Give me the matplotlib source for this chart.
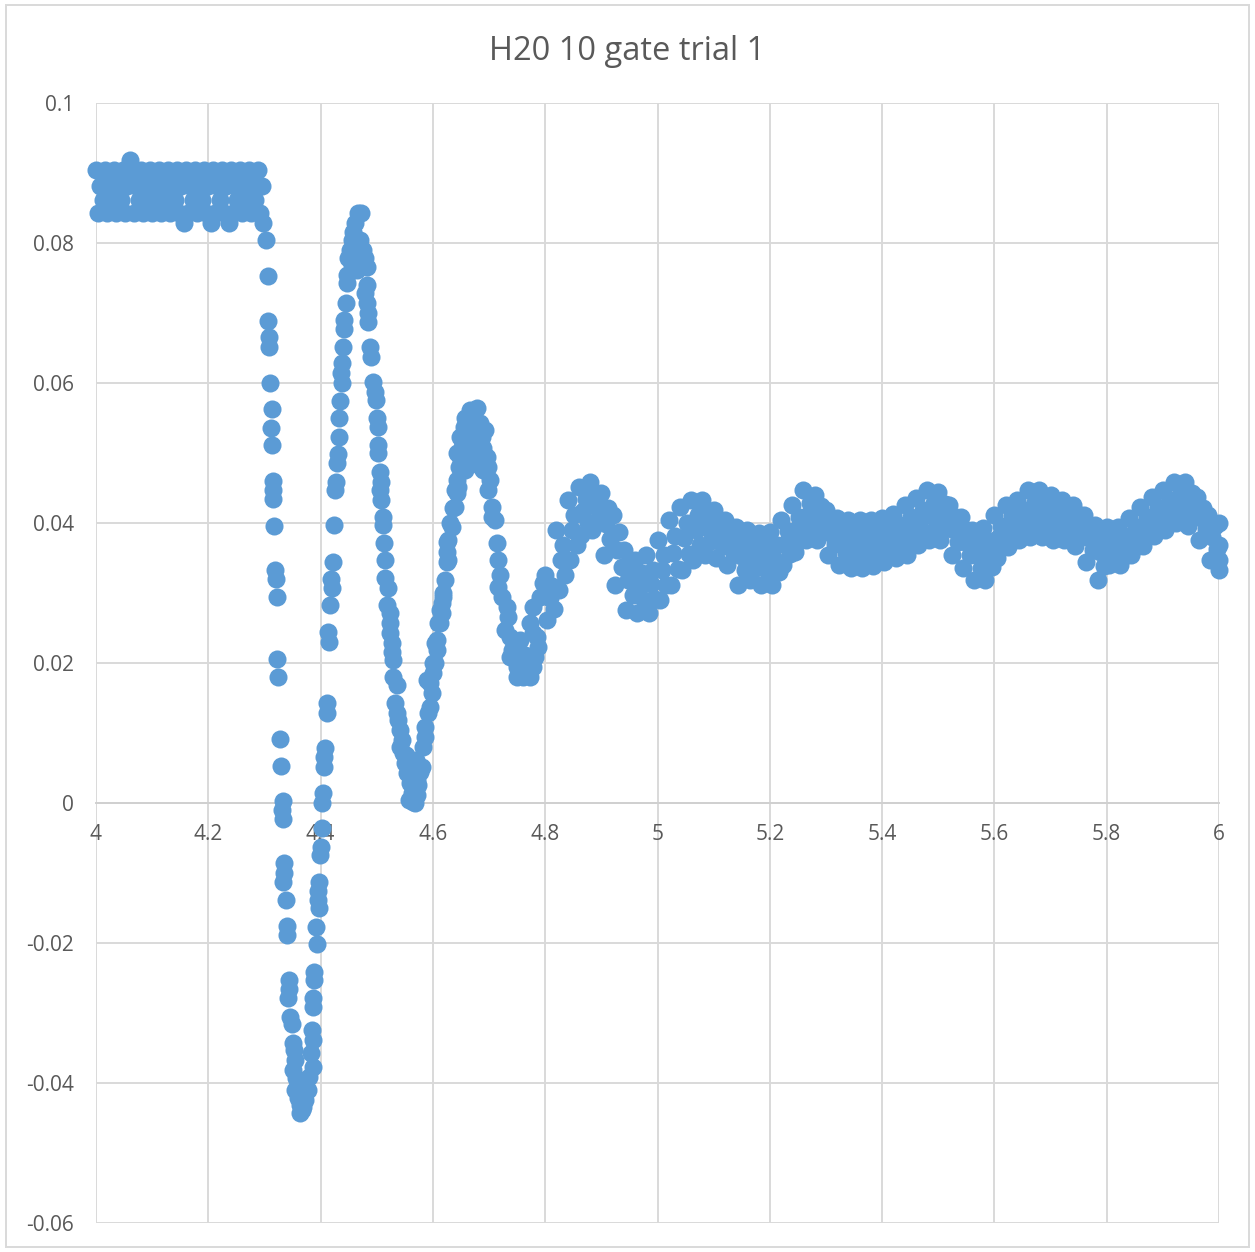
import matplotlib
matplotlib.use("Agg")
import matplotlib.pyplot as plt
from matplotlib.patches import Rectangle

plt.rcParams['font.family'] = ['Open Sans', 'DejaVu Sans']

title = "H20 10 gate trial 1"
x_ticks = [4, 4.2, 4.4, 4.6, 4.8, 5, 5.2, 5.4, 5.6, 5.8, 6]
x_labels = ["4", "4.2", "4.4", "4.6", "4.8", "5", "5.2", "5.4", "5.6", "5.8", "6"]
y_ticks = [-0.06, -0.04, -0.02, 0, 0.02, 0.04, 0.06, 0.08, 0.1]
y_labels = ["-0.06", "-0.04", "-0.02", "0", "0.02", "0.04", "0.06", "0.08", "0.1"]

# flat part before the gate switches
t_flat = [4.000, 4.004, 4.008, 4.012, 4.016, 4.020, 4.024, 4.028, 4.032, 4.036,
          4.040, 4.044, 4.048, 4.052, 4.056, 4.060, 4.064, 4.068, 4.072, 4.076,
          4.080, 4.084, 4.088, 4.092, 4.096, 4.100, 4.104, 4.108, 4.112, 4.116,
          4.120, 4.124, 4.128, 4.132, 4.136, 4.140, 4.144, 4.148, 4.152, 4.156,
          4.160, 4.164, 4.168, 4.172, 4.176, 4.180, 4.184, 4.188, 4.192, 4.196,
          4.200, 4.204, 4.208, 4.212, 4.216, 4.220, 4.224, 4.228, 4.232, 4.236,
          4.240, 4.244, 4.248, 4.252, 4.256, 4.260, 4.264, 4.268, 4.272, 4.276,
          4.280, 4.284, 4.288, 4.292, 4.296]
v_flat = [0.0905, 0.0843, 0.0881, 0.0862, 0.0905, 0.0843, 0.0881, 0.0862,
          0.0905, 0.0843, 0.0881, 0.0862, 0.0905, 0.0843, 0.0881, 0.0919,
          0.0905, 0.0843, 0.0881, 0.0862, 0.0905, 0.0843, 0.0881, 0.0862,
          0.0905, 0.0843, 0.0881, 0.0862, 0.0905, 0.0843, 0.0881, 0.0862,
          0.0905, 0.0843, 0.0881, 0.0862, 0.0905, 0.0843, 0.0881, 0.0829,
          0.0905, 0.0843, 0.0881, 0.0862, 0.0905, 0.0843, 0.0881, 0.0862,
          0.0905, 0.0843, 0.0881, 0.0829, 0.0905, 0.0843, 0.0881, 0.0862,
          0.0905, 0.0843, 0.0881, 0.0829, 0.0905, 0.0843, 0.0881, 0.0862,
          0.0905, 0.0843, 0.0881, 0.0862, 0.0905, 0.0843, 0.0881, 0.0862,
          0.0905, 0.0843, 0.0881]

# ringing after the switch (4.30 - 4.80)
t_ring = [4.297, 4.303, 4.306, 4.306, 4.308, 4.308, 4.310, 4.313, 4.312, 4.313,
          4.315, 4.315, 4.315, 4.317, 4.319, 4.321, 4.322, 4.322, 4.324, 4.328,
          4.329, 4.333, 4.331, 4.333, 4.335, 4.335, 4.333, 4.338, 4.340, 4.340,
          4.344, 4.344, 4.342, 4.346, 4.349, 4.351, 4.353, 4.354, 4.351, 4.356,
          4.354, 4.360, 4.363, 4.363, 4.367, 4.369, 4.372, 4.378, 4.379, 4.386,
          4.383, 4.386, 4.385, 4.386, 4.386, 4.388, 4.388, 4.394, 4.392, 4.397,
          4.395, 4.395, 4.397, 4.399, 4.401, 4.402, 4.402, 4.404, 4.406, 4.406,
          4.408, 4.411, 4.411, 4.415, 4.413, 4.417, 4.419, 4.420, 4.422, 4.424,
          4.426, 4.427, 4.429, 4.431, 4.433, 4.433, 4.435, 4.438, 4.436, 4.438,
          4.440, 4.442, 4.442, 4.445, 4.447, 4.447, 4.449, 4.452, 4.456, 4.458,
          4.461, 4.467, 4.472, 4.470, 4.475, 4.461, 4.456, 4.465, 4.479, 4.483,
          4.483, 4.479, 4.483, 4.484, 4.484, 4.488, 4.490, 4.493, 4.497, 4.499,
          4.500, 4.502, 4.502, 4.502, 4.506, 4.508, 4.506, 4.508, 4.511, 4.511,
          4.513, 4.515, 4.515, 4.520, 4.518, 4.524, 4.524, 4.524, 4.527, 4.527,
          4.529, 4.529, 4.536, 4.532, 4.536, 4.538, 4.541, 4.545, 4.541, 4.547,
          4.552, 4.550, 4.554, 4.559, 4.563, 4.557, 4.565, 4.568, 4.572, 4.566,
          4.573, 4.572, 4.577, 4.570, 4.580, 4.582, 4.586, 4.586, 4.591, 4.595,
          4.598, 4.595, 4.589, 4.600, 4.604, 4.600, 4.607, 4.604, 4.607, 4.613,
          4.609, 4.616, 4.613, 4.616, 4.618, 4.618, 4.622, 4.627, 4.625, 4.625,
          4.625, 4.627, 4.634, 4.630, 4.636, 4.639, 4.639, 4.643, 4.643, 4.645,
          4.646, 4.648, 4.652, 4.654, 4.657, 4.661, 4.666, 4.673, 4.679, 4.663,
          4.672, 4.675, 4.666, 4.657, 4.681, 4.686, 4.684, 4.687, 4.689, 4.696,
          4.698, 4.702, 4.698, 4.705, 4.705, 4.714, 4.716, 4.716, 4.723, 4.732,
          4.734, 4.728, 4.737, 4.741, 4.737, 4.750, 4.750, 4.760, 4.773, 4.778,
          4.782, 4.787, 4.785, 4.778, 4.773, 4.778, 4.755, 4.764, 4.791, 4.796,
          4.692, 4.711, 4.720, 4.690, 4.648, 4.655, 4.668, 4.677, 4.650, 4.643]
v_ring = [0.0829, 0.0804, 0.0753, 0.0689, 0.0666, 0.0651, 0.0600, 0.0563, 0.0536, 0.0511,
          0.0460, 0.0447, 0.0434, 0.0396, 0.0333, 0.0320, 0.0294, 0.0206, 0.0180, 0.0091,
          0.0053, 0.0003, -0.0010, -0.0023, -0.0086, -0.0100, -0.0113, -0.0139, -0.0176, -0.0189,
          -0.0253, -0.0266, -0.0279, -0.0306, -0.0316, -0.0343, -0.0353, -0.0367, -0.0381, -0.0393,
          -0.0410, -0.0421, -0.0431, -0.0443, -0.0439, -0.0434, -0.0424, -0.0410, -0.0391, -0.0377,
          -0.0357, -0.0339, -0.0324, -0.0291, -0.0279, -0.0253, -0.0241, -0.0201, -0.0177, -0.0150,
          -0.0139, -0.0126, -0.0113, -0.0074, -0.0063, -0.0036, 0.0000, 0.0014, 0.0051, 0.0066,
          0.0079, 0.0129, 0.0143, 0.0230, 0.0244, 0.0283, 0.0320, 0.0307, 0.0344, 0.0397,
          0.0447, 0.0459, 0.0486, 0.0499, 0.0523, 0.0550, 0.0574, 0.0600, 0.0614, 0.0629,
          0.0651, 0.0677, 0.0690, 0.0714, 0.0743, 0.0754, 0.0779, 0.0790, 0.0804, 0.0816,
          0.0829, 0.0843, 0.0843, 0.0804, 0.0790, 0.0790, 0.0769, 0.0761, 0.0779, 0.0766,
          0.0740, 0.0729, 0.0714, 0.0700, 0.0687, 0.0651, 0.0637, 0.0601, 0.0587, 0.0576,
          0.0550, 0.0537, 0.0511, 0.0500, 0.0473, 0.0459, 0.0447, 0.0433, 0.0409, 0.0397,
          0.0371, 0.0347, 0.0321, 0.0307, 0.0283, 0.0271, 0.0257, 0.0243, 0.0229, 0.0216,
          0.0204, 0.0180, 0.0169, 0.0143, 0.0129, 0.0119, 0.0104, 0.0090, 0.0080, 0.0071,
          0.0069, 0.0057, 0.0043, 0.0029, 0.0014, 0.0004, 0.0001, 0.0000, 0.0011, 0.0019,
          0.0026, 0.0033, 0.0044, 0.0061, 0.0051, 0.0080, 0.0094, 0.0109, 0.0129, 0.0137,
          0.0157, 0.0171, 0.0176, 0.0186, 0.0200, 0.0200, 0.0219, 0.0229, 0.0233, 0.0257,
          0.0257, 0.0271, 0.0276, 0.0286, 0.0294, 0.0300, 0.0319, 0.0347, 0.0344, 0.0359,
          0.0373, 0.0376, 0.0394, 0.0400, 0.0421, 0.0423, 0.0447, 0.0443, 0.0461, 0.0451,
          0.0480, 0.0494, 0.0509, 0.0519, 0.0550, 0.0537, 0.0561, 0.0561, 0.0564, 0.0519,
          0.0540, 0.0511, 0.0490, 0.0476, 0.0490, 0.0480, 0.0543, 0.0523, 0.0507, 0.0494,
          0.0480, 0.0461, 0.0447, 0.0423, 0.0409, 0.0371, 0.0347, 0.0309, 0.0294, 0.0280,
          0.0266, 0.0247, 0.0237, 0.0219, 0.0209, 0.0194, 0.0180, 0.0180, 0.0180, 0.0194,
          0.0209, 0.0223, 0.0237, 0.0243, 0.0257, 0.0280, 0.0233, 0.0211, 0.0294, 0.0314,
          0.0533, 0.0404, 0.0326, 0.0476, 0.0523, 0.0537, 0.0530, 0.0520, 0.0480, 0.0500]

# noisy band from 4.80 to 6.00
t_tail = [4.800, 4.804, 4.808, 4.812, 4.816, 4.820, 4.824, 4.828, 4.832, 4.836,
          4.840, 4.844, 4.848, 4.852, 4.856, 4.860, 4.864, 4.868, 4.872, 4.876,
          4.880, 4.884, 4.888, 4.892, 4.896, 4.900, 4.904, 4.908, 4.912, 4.916,
          4.920, 4.924, 4.928, 4.932, 4.936, 4.940, 4.944, 4.948, 4.952, 4.956,
          4.960, 4.964, 4.968, 4.972, 4.976, 4.980, 4.984, 4.988, 4.992, 4.996,
          5.000, 5.004, 5.008, 5.012, 5.016, 5.020, 5.024, 5.028, 5.032, 5.036,
          5.040, 5.044, 5.048, 5.052, 5.056, 5.060, 5.064, 5.068, 5.072, 5.076,
          5.080, 5.084, 5.088, 5.092, 5.096, 5.100, 5.104, 5.108, 5.112, 5.116,
          5.120, 5.124, 5.128, 5.132, 5.136, 5.140, 5.144, 5.148, 5.152, 5.156,
          5.160, 5.164, 5.168, 5.172, 5.176, 5.180, 5.184, 5.188, 5.192, 5.196,
          5.200, 5.204, 5.208, 5.212, 5.216, 5.220, 5.224, 5.228, 5.232, 5.236,
          5.240, 5.244, 5.248, 5.252, 5.256, 5.260, 5.264, 5.268, 5.272, 5.276,
          5.280, 5.284, 5.288, 5.292, 5.296, 5.300, 5.304, 5.308, 5.312, 5.316,
          5.320, 5.324, 5.328, 5.332, 5.336, 5.340, 5.344, 5.348, 5.352, 5.356,
          5.360, 5.364, 5.368, 5.372, 5.376, 5.380, 5.384, 5.388, 5.392, 5.396,
          5.400, 5.404, 5.408, 5.412, 5.416, 5.420, 5.424, 5.428, 5.432, 5.436,
          5.440, 5.444, 5.448, 5.452, 5.456, 5.460, 5.464, 5.468, 5.472, 5.476,
          5.480, 5.484, 5.488, 5.492, 5.496, 5.500, 5.504, 5.508, 5.512, 5.516,
          5.520, 5.524, 5.528, 5.532, 5.536, 5.540, 5.544, 5.548, 5.552, 5.556,
          5.560, 5.564, 5.568, 5.572, 5.576, 5.580, 5.584, 5.588, 5.592, 5.596,
          5.600, 5.604, 5.608, 5.612, 5.616, 5.620, 5.624, 5.628, 5.632, 5.636,
          5.640, 5.644, 5.648, 5.652, 5.656, 5.660, 5.664, 5.668, 5.672, 5.676,
          5.680, 5.684, 5.688, 5.692, 5.696, 5.700, 5.704, 5.708, 5.712, 5.716,
          5.720, 5.724, 5.728, 5.732, 5.736, 5.740, 5.744, 5.748, 5.752, 5.756,
          5.760, 5.764, 5.768, 5.772, 5.776, 5.780, 5.784, 5.788, 5.792, 5.796,
          5.800, 5.804, 5.808, 5.812, 5.816, 5.820, 5.824, 5.828, 5.832, 5.836,
          5.840, 5.844, 5.848, 5.852, 5.856, 5.860, 5.864, 5.868, 5.872, 5.876,
          5.880, 5.884, 5.888, 5.892, 5.896, 5.900, 5.904, 5.908, 5.912, 5.916,
          5.920, 5.924, 5.928, 5.932, 5.936, 5.940, 5.944, 5.948, 5.952, 5.956,
          5.960, 5.964, 5.968, 5.972, 5.976, 5.980, 5.984, 5.988, 5.992, 5.996,
          6.000, 6.000, 6.000, 6.000]
v_tail = [0.0326, 0.0261, 0.0293, 0.0310, 0.0277, 0.0390, 0.0304, 0.0347, 0.0369, 0.0326,
          0.0433, 0.0347, 0.0390, 0.0411, 0.0369, 0.0451, 0.0383, 0.0417, 0.0434, 0.0400,
          0.0459, 0.0390, 0.0424, 0.0441, 0.0407, 0.0443, 0.0354, 0.0399, 0.0421, 0.0377,
          0.0411, 0.0311, 0.0361, 0.0387, 0.0337, 0.0361, 0.0276, 0.0319, 0.0340, 0.0297,
          0.0347, 0.0271, 0.0310, 0.0329, 0.0290, 0.0354, 0.0271, 0.0313, 0.0333, 0.0291,
          0.0376, 0.0290, 0.0333, 0.0354, 0.0311, 0.0404, 0.0311, 0.0357, 0.0381, 0.0334,
          0.0423, 0.0333, 0.0379, 0.0400, 0.0356, 0.0433, 0.0347, 0.0390, 0.0411, 0.0369,
          0.0433, 0.0354, 0.0393, 0.0413, 0.0374, 0.0419, 0.0350, 0.0384, 0.0401, 0.0367,
          0.0404, 0.0340, 0.0371, 0.0389, 0.0356, 0.0394, 0.0311, 0.0353, 0.0374, 0.0333,
          0.0390, 0.0319, 0.0354, 0.0371, 0.0336, 0.0386, 0.0311, 0.0349, 0.0367, 0.0330,
          0.0387, 0.0311, 0.0349, 0.0369, 0.0330, 0.0404, 0.0340, 0.0371, 0.0389, 0.0356,
          0.0426, 0.0359, 0.0391, 0.0409, 0.0376, 0.0447, 0.0376, 0.0411, 0.0429, 0.0393,
          0.0440, 0.0376, 0.0407, 0.0424, 0.0391, 0.0419, 0.0354, 0.0386, 0.0403, 0.0370,
          0.0407, 0.0340, 0.0373, 0.0390, 0.0357, 0.0404, 0.0336, 0.0370, 0.0387, 0.0353,
          0.0404, 0.0336, 0.0370, 0.0387, 0.0353, 0.0404, 0.0339, 0.0370, 0.0387, 0.0354,
          0.0407, 0.0344, 0.0376, 0.0391, 0.0360, 0.0413, 0.0350, 0.0381, 0.0397, 0.0366,
          0.0426, 0.0354, 0.0390, 0.0409, 0.0373, 0.0436, 0.0369, 0.0403, 0.0419, 0.0386,
          0.0447, 0.0376, 0.0411, 0.0429, 0.0393, 0.0444, 0.0376, 0.0410, 0.0427, 0.0393,
          0.0426, 0.0354, 0.0390, 0.0409, 0.0373, 0.0409, 0.0336, 0.0373, 0.0390, 0.0354,
          0.0390, 0.0319, 0.0354, 0.0371, 0.0336, 0.0393, 0.0319, 0.0356, 0.0374, 0.0337,
          0.0411, 0.0350, 0.0380, 0.0396, 0.0366, 0.0426, 0.0366, 0.0396, 0.0410, 0.0380,
          0.0433, 0.0376, 0.0404, 0.0419, 0.0390, 0.0447, 0.0380, 0.0413, 0.0430, 0.0397,
          0.0447, 0.0380, 0.0413, 0.0430, 0.0397, 0.0440, 0.0376, 0.0407, 0.0424, 0.0391,
          0.0433, 0.0376, 0.0404, 0.0419, 0.0390, 0.0426, 0.0367, 0.0396, 0.0411, 0.0381,
          0.0411, 0.0344, 0.0379, 0.0394, 0.0361, 0.0397, 0.0319, 0.0359, 0.0377, 0.0339,
          0.0394, 0.0340, 0.0367, 0.0381, 0.0354, 0.0394, 0.0340, 0.0367, 0.0381, 0.0354,
          0.0407, 0.0354, 0.0381, 0.0394, 0.0367, 0.0423, 0.0367, 0.0396, 0.0409, 0.0381,
          0.0437, 0.0381, 0.0410, 0.0423, 0.0396, 0.0447, 0.0390, 0.0419, 0.0433, 0.0404,
          0.0459, 0.0400, 0.0430, 0.0444, 0.0414, 0.0459, 0.0396, 0.0427, 0.0443, 0.0411,
          0.0437, 0.0376, 0.0407, 0.0421, 0.0391, 0.0411, 0.0347, 0.0380, 0.0396, 0.0363,
          0.0400, 0.0369, 0.0347, 0.0333]

W, H = 1255, 1252
fig = plt.figure(figsize=(W / 100, H / 100), dpi=100)
ax = fig.add_axes([96 / W, 1 - 1223 / H, 1123 / W, 1120 / H])

blue = '#5B9BD5'
for t, v in [(t_flat, v_flat), (t_ring, v_ring), (t_tail, v_tail)]:
    ax.plot(t, v, 'o', linestyle='none', color=blue, markersize=13,
            markeredgewidth=0, clip_on=False, zorder=3)

ax.set_xlim(4, 6)
ax.set_ylim(-0.06, 0.1)
ax.set_xticks(x_ticks)
ax.set_xticklabels(x_labels)
ax.set_yticks(y_ticks)
ax.set_yticklabels(y_labels)
ax.set_axisbelow(True)
ax.grid(True, color='#D9D9D9', linewidth=1.4)

for s in ['top', 'right', 'left']:
    ax.spines[s].set_visible(False)
ax.spines['bottom'].set_position(('data', 0))
ax.spines['bottom'].set_color('#D0D0D0')
ax.spines['bottom'].set_linewidth(1.4)
ax.spines['bottom'].set_zorder(0.6)

ax.tick_params(axis='x', length=0, pad=15, labelsize=15, labelcolor='#595959')
ax.tick_params(axis='y', length=0, pad=16, labelsize=15, labelcolor='#595959')

fig.text(0.5, 1 - 51 / H, title, ha='center', va='center', fontsize=23.5, color='#595959')

fig.add_artist(Rectangle((6 / W, 1 - 1247 / H), 1243 / W, 1242 / H, transform=fig.transFigure,
                         fill=False, edgecolor='#D9D9D9', linewidth=1.4))

fig.savefig('out.png', dpi=100, facecolor='white')
